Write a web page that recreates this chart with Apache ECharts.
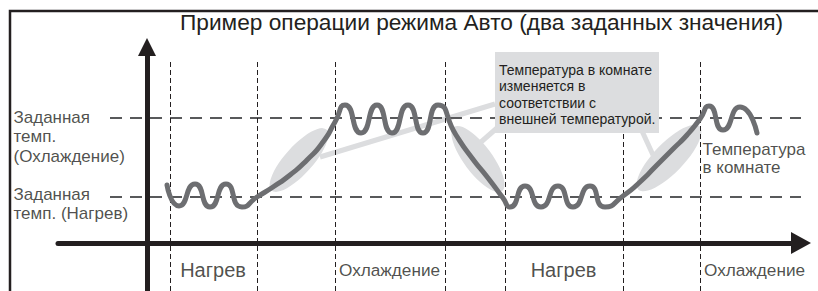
<!DOCTYPE html>
<html>
<head>
<meta charset="utf-8">
<script src="https://cdn.jsdelivr.net/npm/echarts@6/dist/echarts.min.js"></script>
<style>
html, body { margin: 0; padding: 0; background: #fff; }
#main { width: 818px; height: 291px; }
</style>
</head>
<body>
<div id="main"></div>
<script>
var titleText = 'Пример операции режима Авто (два заданных значения)';

// setpoints, temperature units above the time axis
var setpointNames = ['Заданная\nтемп.\n(Охлаждение)', 'Заданная\nтемп. (Нагрев)'];
var setpointValues = [125, 46];

// moments where the mode switches
var boundaries = [23, 110, 188, 298, 358, 476, 553];

// phases shown under the time axis
var phaseNames = ['Нагрев', 'Охлаждение', 'Нагрев', 'Охлаждение'];
var phaseStart = [23, 188, 358, 553];
var phaseEnd = [110, 298, 476, 663];

// room temperature curve
var roomTime = [20, 32, 48, 63, 79, 95, 110, 126, 143, 160, 176, 188, 198, 214, 230, 245, 261, 276, 291, 309,
    325, 341, 356, 363, 378, 394, 411, 426, 443, 458, 476, 493, 510, 526, 540, 553, 562, 576, 593, 610];
var roomTemp = [58, 37, 59, 36, 59, 36, 46, 56, 68, 83, 101, 121, 138, 110, 138, 110, 138, 110, 138, 108,
    85, 65, 45, 36, 57, 36, 57, 36, 57, 36, 47, 61, 78, 94, 108, 124, 137, 113, 136, 110];

// parts of the curve that follow the outside temperature
var driftTime = [152, 331, 522];
var driftTemp = [83, 84, 85];

var noteText = 'Температура в комнате\nизменяется в\nсоответствии с\nвнешней температурой.';
var roomLabel = 'Температура\nв комнате';

var ink = '#231f20';
var curveColor = '#6d6e71';
var light = '#dcdddf';

var myChart = echarts.init(document.getElementById('main'), null, { renderer: 'svg' });

var curveData = roomTime.map(function (t, i) { return [t, roomTemp[i]]; });

var labelData = [];
setpointNames.forEach(function (name, i) {
    labelData.push({
        value: [-133, setpointValues[i]],
        label: { formatter: name, align: 'left', verticalAlign: 'top', offset: [0, i === 0 ? -10 : -12],
            fontSize: 17, lineHeight: 19.5 }
    });
});
phaseNames.forEach(function (name, i) {
    labelData.push({
        value: [(phaseStart[i] + phaseEnd[i]) / 2, -27],
        label: { formatter: name, align: 'center', verticalAlign: 'middle',
            fontSize: name === 'Нагрев' ? 20 : 17.2 }
    });
});
labelData.push({
    value: [556, 93],
    label: { formatter: roomLabel, align: 'left', verticalAlign: 'top', offset: [0, -9],
        fontSize: 17, lineHeight: 18 }
});

var option = {
    animation: false,
    textStyle: { fontFamily: 'Liberation Sans, Arial, sans-serif' },
    title: {
        text: titleText,
        left: 180,
        top: 10,
        padding: 0,
        textStyle: { fontSize: 22.7, fontWeight: 'normal', color: ink }
    },
    graphic: [{
        type: 'polyline',
        shape: { points: [[10, 291], [10, 11], [818, 11]] },
        style: { stroke: ink, lineWidth: 2.5, fill: null }
    }],
    grid: { left: 58, right: 17, top: 47, bottom: 0, containLabel: false },
    xAxis: {
        type: 'value', min: -89, max: 654,
        axisLine: { show: true, onZero: true, symbol: ['none', 'triangle'], symbolSize: [22, 20],
            lineStyle: { color: ink, width: 5 } },
        axisTick: { show: false }, axisLabel: { show: false }, splitLine: { show: false }
    },
    yAxis: {
        type: 'value', min: -48, max: 196,
        axisLine: { show: true, onZero: true, symbol: ['none', 'triangle'], symbolSize: [18, 18],
            lineStyle: { color: ink, width: 5 } },
        axisTick: { show: false }, axisLabel: { show: false }, splitLine: { show: false }
    },
    series: [
        {
            name: 'drift',
            type: 'scatter',
            z: 1,
            silent: true,
            symbol: 'circle',
            data: [
                { value: [driftTime[0], driftTemp[0]], symbolSize: [82, 28], symbolRotate: 48 },
                { value: [driftTime[1], driftTemp[1]], symbolSize: [80, 28], symbolRotate: -53 },
                { value: [driftTime[2], driftTemp[2]], symbolSize: [88, 30], symbolRotate: 46 }
            ],
            itemStyle: { color: light, opacity: 1 }
        },
        {
            name: 'connectors',
            type: 'lines',
            coordinateSystem: 'cartesian2d',
            z: 1,
            silent: true,
            data: [
                { coords: [[173, 86], [348, 139]] },
                { coords: [[334, 101], [350, 115]] },
                { coords: [[506, 88], [495, 112]] }
            ],
            lineStyle: { color: light, width: 5, opacity: 1 },
            markArea: {
                z: 4,
                silent: true,
                itemStyle: { color: light, opacity: 1 },
                label: { show: true, position: [4, 10], color: ink, fontSize: 14, lineHeight: 16.3 },
                data: [[{ name: noteText, coord: [348, 191] }, { coord: [512, 110] }]]
            }
        },
        {
            name: 'setpoints',
            type: 'lines',
            coordinateSystem: 'cartesian2d',
            z: 2,
            silent: true,
            data: setpointValues.map(function (v) { return { coords: [[-37, v], [654, v]] }; }),
            lineStyle: { color: '#58595b', width: 2, type: [12, 8], opacity: 1 }
        },
        {
            name: 'boundaries',
            type: 'lines',
            coordinateSystem: 'cartesian2d',
            z: 2,
            silent: true,
            data: boundaries.map(function (t) { return { coords: [[t, -48], [t, 183]] }; }),
            lineStyle: { color: ink, width: 1, type: [5, 3], opacity: 1 }
        },
        {
            name: 'room',
            type: 'line',
            z: 5,
            silent: true,
            clip: false,
            smooth: 0.65,
            showSymbol: false,
            data: curveData,
            lineStyle: { color: curveColor, width: 5, cap: 'round', join: 'round' }
        },
        {
            name: 'labels',
            type: 'scatter',
            z: 6,
            silent: true,
            clip: false,
            symbolSize: 1,
            itemStyle: { color: 'transparent' },
            label: { show: true, position: [0, 0], color: ink },
            data: labelData
        }
    ]
};

myChart.setOption(option);
</script>
</body>
</html>
